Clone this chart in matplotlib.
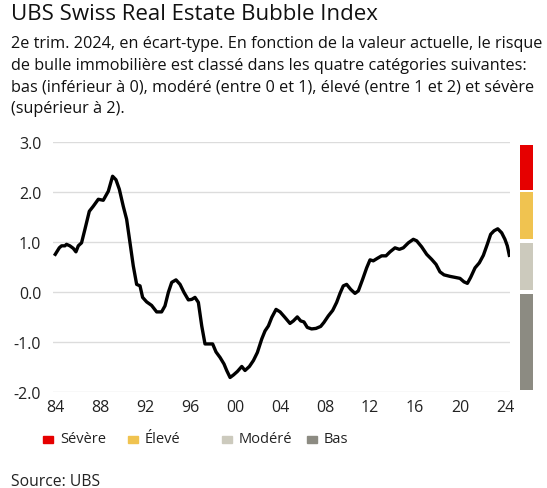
import matplotlib.pyplot as plt
from matplotlib.patches import Rectangle

# index values (standard deviations)
years = [1984.0, 1984.36, 1984.56, 1984.86, 1985.0, 1985.3, 1985.6, 1985.84, 1986.05, 1986.34,
         1986.64, 1987.03, 1987.38, 1987.83, 1988.27, 1988.72, 1989.1, 1989.4, 1989.7, 1990.05,
         1990.35, 1990.65, 1990.94, 1991.24, 1991.54, 1991.77, 1992.13, 1992.57, 1993.02, 1993.46,
         1993.76, 1994.06, 1994.36, 1994.74, 1995.1, 1995.45, 1995.84, 1996.14, 1996.43, 1996.73,
         1997.03, 1997.32, 1997.62, 1998.0, 1998.3, 1998.66, 1999.01, 1999.25, 1999.55, 1999.85,
         2000.2, 2000.59, 2000.88, 2001.27, 2001.63, 2001.98, 2002.37, 2002.66, 2002.96, 2003.26,
         2003.64, 2004.0, 2004.43, 2004.88, 2005.18, 2005.53, 2005.83, 2006.12, 2006.42, 2006.8,
         2007.19, 2007.61, 2007.9, 2008.29, 2008.68, 2009.03, 2009.33, 2009.62, 2009.92, 2010.28,
         2010.66, 2010.96, 2011.34, 2011.7, 2012.0, 2012.29, 2012.65, 2013.03, 2013.42, 2013.78,
         2014.22, 2014.61, 2014.96, 2015.41, 2015.85, 2016.15, 2016.59, 2017.04, 2017.48, 2017.87,
         2018.22, 2018.58, 2019.11, 2019.56, 2020.0, 2020.36, 2020.66, 2020.95, 2021.34, 2021.72,
         2022.08, 2022.43, 2022.73, 2023.03, 2023.36, 2023.71, 2024.0, 2024.21, 2024.39]
index = [0.75, 0.88, 0.92, 0.92, 0.95, 0.92, 0.87, 0.80, 0.92, 0.98,
         1.25, 1.61, 1.71, 1.85, 1.83, 2.01, 2.31, 2.24, 2.05, 1.71,
         1.45, 0.98, 0.52, 0.15, 0.12, -0.11, -0.20, -0.27, -0.40, -0.40,
         -0.28, -0.01, 0.19, 0.24, 0.15, -0.01, -0.16, -0.15, -0.11, -0.21,
         -0.68, -1.04, -1.04, -1.04, -1.20, -1.31, -1.44, -1.57, -1.71, -1.66,
         -1.59, -1.49, -1.57, -1.49, -1.37, -1.21, -0.94, -0.78, -0.68, -0.51,
         -0.35, -0.40, -0.51, -0.63, -0.58, -0.50, -0.58, -0.60, -0.71, -0.74,
         -0.73, -0.69, -0.61, -0.48, -0.37, -0.21, -0.03, 0.12, 0.15, 0.05,
         -0.03, 0.02, 0.25, 0.48, 0.64, 0.62, 0.67, 0.72, 0.72, 0.80,
         0.88, 0.85, 0.88, 0.98, 1.05, 1.02, 0.90, 0.75, 0.65, 0.55,
         0.40, 0.34, 0.31, 0.29, 0.27, 0.20, 0.17, 0.29, 0.48, 0.58,
         0.73, 0.95, 1.15, 1.22, 1.26, 1.18, 1.05, 0.92, 0.73]

# risk categories and their bands
categories = ['Sévère', 'Élevé', 'Modéré', 'Bas']
band_low = [2.03, 1.05, 0.03, -1.96]
band_high = [2.94, 1.99, 0.97, -0.05]
colors = ['#E60000', '#F0C350', '#CCCABD', '#8C8B82']

xticks = list(range(1984, 2025, 4))
xticklabels = [f'{y % 100:02d}' for y in xticks]
yticks = [-2, -1, 0, 1, 2, 3]

W, H = 547, 489
plt.rcParams['font.family'] = ['Open Sans', 'DejaVu Sans']
fig = plt.figure(figsize=(W / 100, H / 100), dpi=100)

def fx(px):
    return px / W

def fy(py):
    return 1 - py / H

ax = fig.add_axes([fx(53), fy(393), fx(510) - fx(53), fy(142.7) - fy(393)])
ax.plot(years, index, color='black', lw=2.4, solid_joinstyle='round', zorder=3)
ax.set_xlim(1983.8, 2024.45)
ax.set_ylim(-2, 3)
ax.set_yticks(yticks)
ax.set_yticklabels([f'{v:.1f}' for v in yticks])
ax.set_xticks(xticks)
ax.set_xticklabels(xticklabels)
ax.grid(axis='y', color='#dcdcdc', lw=1)
ax.set_axisbelow(True)
for s in ax.spines.values():
    s.set_visible(False)
ax.tick_params(length=0, labelsize=11.5, colors='#222222', pad=8.5)
ax.tick_params(axis='x', pad=5)

# category colour scale on the right
bx = fig.add_axes([fx(520), fy(393), fx(533) - fx(520), fy(142.7) - fy(393)])
bx.bar([0] * 4, [h - l for h, l in zip(band_high, band_low)], bottom=band_low,
       color=colors, width=1)
bx.set_xlim(-0.5, 0.5)
bx.set_ylim(-2, 3)
bx.axis('off')

fig.text(fx(11), fy(15), 'UBS Swiss Real Estate Bubble Index', fontsize=16,
         va='center', ha='left', color='#111111')
sub = ("2e trim. 2024, en écart-type. En fonction de la valeur actuelle, le risque\n"
       "de bulle immobilière est classé dans les quatre catégories suivantes:\n"
       "bas (inférieur à 0), modéré (entre 0 et 1), élevé (entre 1 et 2) et sévère\n"
       "(supérieur à 2).")
fig.text(fx(11), fy(36), sub, fontsize=11.7, va='top', ha='left',
         color='#111111', linespacing=1.47)

# legend
leg_x = [43, 128, 222, 307]
for x, name, c in zip(leg_x, categories, colors):
    fig.patches.append(Rectangle((fx(x), fy(444)), fx(10), fy(437) - fy(444),
                                 transform=fig.transFigure, color=c))
    fig.text(fx(x + 17), fy(439.5), name, fontsize=10.5, va='center', ha='left',
             color='#222222')

fig.text(fx(11), fy(482), 'Source: UBS', fontsize=11.3, va='center', ha='left',
         color='#222222')

fig.savefig('out.png', dpi=100)
